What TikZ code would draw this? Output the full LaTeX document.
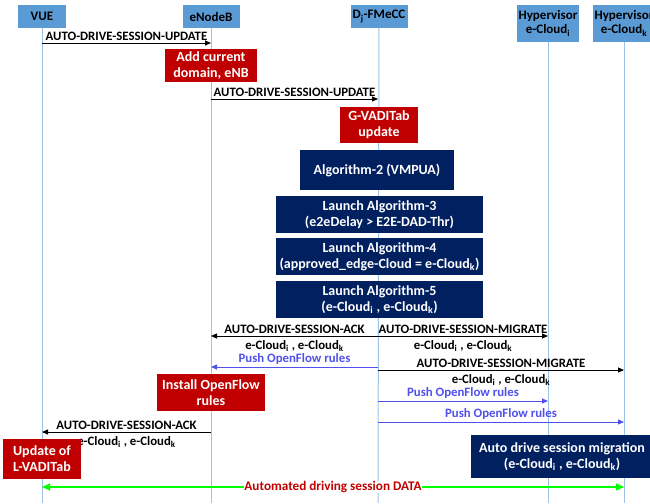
\documentclass[tikz,border=0pt]{standalone}
\usepackage{fontspec}
\setmainfont{Carlito}
\usetikzlibrary{arrows.meta}
\definecolor{hdrblue}{RGB}{91,155,213}
\definecolor{lifeblue}{RGB}{157,195,230}
\definecolor{boxred}{RGB}{192,0,0}
\definecolor{navy}{RGB}{0,32,96}
\definecolor{pushblue}{RGB}{80,80,235}
\definecolor{datagreen}{RGB}{0,255,0}
\begin{document}
\begin{tikzpicture}[x=1pt,y=-1pt,
  hdr/.style={fill=hdrblue, inner sep=0pt, align=center, font=\bfseries\fontsize{13}{14}\selectfont},
  life/.style={draw=lifeblue, line width=1pt},
  redbox/.style={fill=boxred, text=white, inner sep=0pt, align=center, font=\bfseries\fontsize{14}{16}\selectfont},
  navybox/.style={fill=navy, text=white, inner sep=0pt, align=center, font=\bfseries\fontsize{14}{16}\selectfont},
  msg/.style={black, line width=0.8pt, -{Triangle[length=6pt,width=5pt]}},
  push/.style={pushblue, line width=0.8pt, -{Triangle[length=6pt,width=5pt]}},
  lbl/.style={font=\bfseries\fontsize{12.8}{14}\selectfont, inner sep=2.5pt},
  lblb/.style={lbl, inner sep=4pt}]
\useasboundingbox (0,0) rectangle (650,503);
\clip (0,0) rectangle (650,503);
% participants
\node[hdr, minimum width=48, minimum height=23] (vue) at (42,16.5) {VUE};
\node[hdr, minimum width=57, minimum height=23] (enb) at (211,16.5) {eNodeB};
\node[hdr, minimum width=57, minimum height=23] (fmecc) at (379,16.5) {D\textsubscript{j}-FMeCC};
\node[hdr, minimum width=62, minimum height=37] (hypi) at (548,23.5) {Hypervisor\\e-Cloud\textsubscript{i}};
\node[hdr, minimum width=62, minimum height=37] (hypk) at (624,23.5) {Hypervisor\\e-Cloud\textsubscript{k}};
\coordinate (vueE) at (42,503);
\coordinate (enbE) at (211,503);
\coordinate (fmeccE) at (378,503);
\coordinate (hypiE) at (548,503);
\coordinate (hypkE) at (624,503);
\draw[life] (vue) -- (vueE);
\draw[life] (enb) -- (enbE);
\draw[life] (fmecc) -- (fmeccE);
\draw[life] (hypi) -- (hypiE);
\draw[life] (hypk) -- (hypkE);
% session update
\coordinate (vue1) at (42,43);
\coordinate (enb1) at (211,43);
\draw[msg] (vue1) -- node[lbl, above] {AUTO-DRIVE-SESSION-UPDATE} (enb1);
\node[redbox, minimum width=92, minimum height=33] (addnb) at (211,65.5) {Add current\\domain, eNB};
\coordinate (enb2) at (211,99);
\coordinate (fmecc2) at (378,99);
\draw[msg] (enb2) -- node[lbl, above] {AUTO-DRIVE-SESSION-UPDATE} (fmecc2);
\node[redbox, minimum width=78, minimum height=36] (gvad) at (379,125) {G-VADITab\\update};
% algorithms
\node[navybox, minimum width=154, minimum height=40] (alg2) at (377,170) {Algorithm-2 (VMPUA)};
\node[navybox, minimum width=207, minimum height=37] (alg3) at (379.5,214.5) {Launch Algorithm-3\\(e2eDelay > E2E-DAD-Thr)};
\node[navybox, minimum width=207, minimum height=37] (alg4) at (379.5,256.5) {Launch Algorithm-4\\(approved\_edge-Cloud = e-Cloud\textsubscript{k})};
\node[navybox, minimum width=207, minimum height=37] (alg5) at (379.5,299.5) {Launch Algorithm-5\\(e-Cloud\textsubscript{i} , e-Cloud\textsubscript{k})};
% ack and migrate
\coordinate (fmecc3) at (378,336);
\coordinate (enb3) at (211,336);
\coordinate (hypi3) at (548,336);
\draw[msg] (fmecc3) -- node[lbl, above] {AUTO-DRIVE-SESSION-ACK} node[lblb, below] {e-Cloud\textsubscript{i} , e-Cloud\textsubscript{k}} (enb3);
\draw[msg] (fmecc3) -- node[lbl, above] {AUTO-DRIVE-SESSION-MIGRATE} node[lblb, below] {e-Cloud\textsubscript{i} , e-Cloud\textsubscript{k}} (hypi3);
\coordinate (fmecc4) at (378,367);
\coordinate (enb4) at (211,367);
\draw[push] (fmecc4) -- node[lbl, above] {Push OpenFlow rules} (enb4);
\coordinate (fmecc5) at (378,370);
\coordinate (hypk5) at (624,370);
\draw[msg] (fmecc5) -- node[lbl, above] {AUTO-DRIVE-SESSION-MIGRATE} node[lblb, below] {e-Cloud\textsubscript{i} , e-Cloud\textsubscript{k}} (hypk5);
\node[redbox, minimum width=108, minimum height=37] (install) at (211,392.5) {Install OpenFlow\\rules};
\coordinate (fmecc6) at (378,401);
\coordinate (hypi6) at (548,401);
\draw[push] (fmecc6) -- node[lbl, above] {Push OpenFlow rules} (hypi6);
\coordinate (fmecc7) at (378,422);
\coordinate (hypk7) at (624,422);
\draw[push] (fmecc7) -- node[lbl, above] {Push OpenFlow rules} (hypk7);
\coordinate (enb8) at (211,432);
\coordinate (vue8) at (42,432);
\draw[msg] (enb8) -- node[lbl, above] {AUTO-DRIVE-SESSION-ACK} node[lblb, below] {e-Cloud\textsubscript{i} , e-Cloud\textsubscript{k}} (vue8);
% final states
\node[redbox, minimum width=78, minimum height=40] (lvad) at (42,459) {Update of\\L-VADITab};
\node[navybox, minimum width=182, minimum height=43] (migr) at (562,456.5) {Auto drive session migration\\(e-Cloud\textsubscript{i} , e-Cloud\textsubscript{k})};
\coordinate (vue9) at (42,487);
\coordinate (hypk9) at (624,487);
\draw[datagreen, line width=1.2pt, {Triangle[length=8pt,width=7pt]}-{Triangle[length=8pt,width=7pt]}] (vue9) -- node[fill=white, text=boxred, inner sep=0.5pt, font=\bfseries\fontsize{13.2}{14}\selectfont] {Automated driving session DATA} (hypk9);
\end{tikzpicture}
\end{document}
